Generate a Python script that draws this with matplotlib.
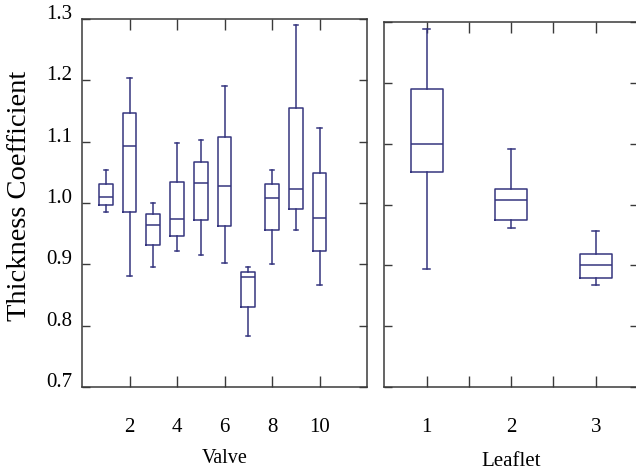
import matplotlib
matplotlib.use("Agg")
import matplotlib.pyplot as plt

plt.rcParams['font.family'] = ['Liberation Serif', 'DejaVu Serif']

# valve boxes (1..10)
valves = [1, 2, 3, 4, 5, 6, 7, 8, 9, 10]
valve_whislo = [0.986, 0.881, 0.896, 0.921, 0.915, 0.902, 0.783, 0.900, 0.956, 0.867]
valve_q1 = [0.996, 0.986, 0.932, 0.947, 0.973, 0.963, 0.830, 0.956, 0.990, 0.922]
valve_med = [1.009, 1.093, 0.964, 0.974, 1.033, 1.027, 0.880, 1.008, 1.023, 0.976]
valve_q3 = [1.031, 1.147, 0.982, 1.035, 1.067, 1.108, 0.888, 1.031, 1.155, 1.049]
valve_whishi = [1.053, 1.203, 1.000, 1.098, 1.102, 1.190, 0.896, 1.053, 1.291, 1.123]

# leaflet boxes (1..3)
leaflets = [1, 2, 3]
leaf_whislo = [0.894, 0.962, 0.868]
leaf_q1 = [1.053, 0.974, 0.880]
leaf_med = [1.100, 1.007, 0.901]
leaf_q3 = [1.190, 1.026, 0.919]
leaf_whishi = [1.288, 1.091, 0.956]

y_ticks = [0.7, 0.8, 0.9, 1.0, 1.1, 1.2, 1.3]
valve_ticks = [2, 4, 6, 8, 10]
leaf_ticks = [1, 1.5, 2, 2.5, 3]

box_color = '#35357f'
spine_color = '#3a3a3a'


def make_stats(lo, q1, med, q3, hi):
    stats = []
    for a, b, c, d, e in zip(lo, q1, med, q3, hi):
        stats.append(dict(whislo=a, q1=b, med=c, q3=d, whishi=e, fliers=[]))
    return stats


def style_axes(ax):
    for sp in ax.spines.values():
        sp.set_color(spine_color)
        sp.set_linewidth(1.1)
    ax.set_ylim(0.7, 1.3)
    ax.tick_params(axis='y', direction='in', length=6, width=1, color=spine_color,
                   left=True, right=True, labelsize=15, pad=7)
    ax.tick_params(axis='x', direction='in', length=8, width=1, color=spine_color,
                   top=True, bottom=True, labelsize=15, pad=22)


fig = plt.figure(figsize=(6.36, 4.72), dpi=100)

ax1 = fig.add_axes([82 / 636, 85 / 472, 285 / 636, 368 / 472])
ax2 = fig.add_axes([384.5 / 636, 85 / 472, 253.5 / 636, 365 / 472])

line = dict(color=box_color, linewidth=1.1)
ax1.bxp(make_stats(valve_whislo, valve_q1, valve_med, valve_q3, valve_whishi),
        positions=valves, widths=0.57, capwidths=0.17, showfliers=False,
        boxprops=line, whiskerprops=line, capprops=line, medianprops=line)
ax2.bxp(make_stats(leaf_whislo, leaf_q1, leaf_med, leaf_q3, leaf_whishi),
        positions=leaflets, widths=0.38, capwidths=0.08, showfliers=False,
        boxprops=line, whiskerprops=line, capprops=line, medianprops=line)

style_axes(ax1)
ax1.set_xlim(0, 12)
ax1.set_xticks(valve_ticks)
ax1.set_xticklabels([str(t) for t in valve_ticks])
ax1.set_yticks(y_ticks)
ax1.set_yticklabels([f'{t:.1f}' for t in y_ticks], va='baseline')
ax1.set_xlabel('Valve', fontsize=14.5, labelpad=9)

style_axes(ax2)
ax2.set_xlim(0.5, 3.5)
ax2.set_xticks(leaf_ticks)
ax2.set_xticklabels(['1', '', '2', '', '3'])
ax2.set_yticks(y_ticks)
ax2.set_yticklabels([])
ax2.set_xlabel('Leaflet', fontsize=15, labelpad=11)

fig.text(20 / 636, 1 - 196 / 472, 'Thickness Coefficient', rotation=90,
         ha='center', va='center', fontsize=20.5)

fig.savefig('out.png', dpi=100)
